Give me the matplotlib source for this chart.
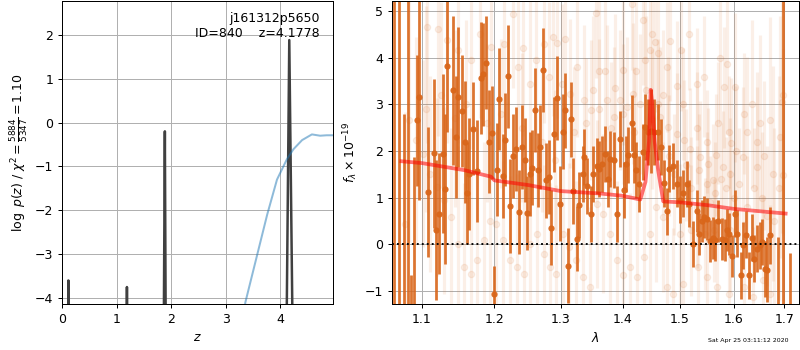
import matplotlib
matplotlib.use('Agg')
import matplotlib.pyplot as plt
from matplotlib.ticker import FixedLocator, NullLocator, NullFormatter

# ---- left panel: redshift probability ----
z_grid = [0.0, 0.105, 0.117, 0.13, 1.18, 1.19, 1.20, 1.86, 1.885, 1.905,
          4.091, 4.165, 4.255, 4.97]
logp = [-12, -6, -3.6, -6, -6, -3.75, -6, -6, -0.2, -6,
        -8, 1.88, -8, -12]

chi_z = [3.30, 3.36, 3.58, 3.76, 3.94, 4.12, 4.24, 4.40, 4.58, 4.73, 4.85, 4.97]
chi_v = [-4.6, -4.1, -3.0, -2.1, -1.3, -0.84, -0.61, -0.40, -0.27, -0.30, -0.29, -0.29]

# ---- right panel: spectrum ----
# binned points
lam = [1.063, 1.070, 1.076, 1.082, 1.086, 1.090,
       1.0938, 1.0965, 1.1084, 1.1164, 1.1187, 1.1232, 1.1277, 1.1313, 1.1340, 1.1422,
       1.1459, 1.1491, 1.1537, 1.1584, 1.1616, 1.1644, 1.1691, 1.1757, 1.1804, 1.1842,
       1.1880, 1.1928, 1.1961, 1.2000, 1.2034, 1.2073, 1.2121, 1.2155, 1.2204, 1.2229,
       1.2278, 1.2317, 1.2366, 1.2400, 1.2450, 1.2485, 1.2525, 1.2550, 1.2600, 1.2651,
       1.2676, 1.2727, 1.2768, 1.2819, 1.2840, 1.2891, 1.2943, 1.2984, 1.3026, 1.3063,
       1.3110, 1.3162, 1.3194, 1.3247, 1.3289, 1.3343, 1.3369, 1.3418, 1.3471, 1.3515,
       1.3569, 1.3612, 1.3650, 1.3705, 1.3749, 1.3788, 1.3854, 1.3910, 1.3955, 1.4022,
       1.4056, 1.4095, 1.4152, 1.4191, 1.4225, 1.4282, 1.4340, 1.4386, 1.4438, 1.4478,
       1.4536, 1.4612, 1.4659, 1.4718, 1.4759, 1.4806, 1.4866, 1.4938, 1.4998, 1.5058,
       1.5118, 1.5167, 1.5240, 1.5301, 1.5350, 1.5393, 1.5436, 1.5485, 1.5548, 1.5598,
       1.5641, 1.5704, 1.5767, 1.5831, 1.5875, 1.5913, 1.5958, 1.6022, 1.6067, 1.6131,
       1.6183, 1.6235, 1.6300, 1.6346, 1.6392, 1.6445, 1.6511, 1.6557, 1.6610, 1.6657,
       1.6710, 1.688, 1.698, 1.712]
flux = [6.0, 6.0, -2.0, 6.0, -2.0, -1.5,
        2.66, 3.16, 1.12, 1.95, 0.30, 0.66, 1.94, 1.19, 3.81, 3.30,
        2.30, 3.16, 2.85, 2.19, 1.10, 1.51, 2.48, 1.57, 3.57, 3.64,
        3.89, 2.20, 2.39, -1.06, 1.60, 3.11, 1.46, 2.24, 3.60, 0.82,
        1.89, 2.05, 0.69, 2.09, 1.81, 0.67, 1.51, 1.64, 2.87, 1.59,
        2.09, 3.73, 1.37, 1.44, 0.36, 2.36, 3.13, 0.87, 2.41, 2.87,
        -0.46, 2.68, 1.14, 0.12, 0.84, 1.51, 1.87, 1.24, 0.66, 1.51,
        1.67, 1.62, 1.73, 1.94, 1.39, 1.83, 1.81, 0.66, 2.26, 1.17,
        1.73, 1.91, 2.59, 1.91, 1.60, 1.29, 1.98, 2.51, 2.41, 2.43,
        2.41, 2.41, 2.09, 1.31, 0.71, 1.62, 1.68, 1.30, 0.96, 1.09,
        1.29, 0.87, 0.01, 0.71, 0.23, 0.51, 0.59, 0.55, 0.07, 0.14,
        0.09, 0.50, 0.12, 0.09, 0.31, 0.23, -0.24, 0.66, 0.23, -0.66,
        -0.02, 0.21, -0.66, 0.14, -0.31, -0.09, -0.02, 0.05, -0.52, -0.54,
        0.19, -1.5, 6.0, -1.5]
err = [7.5, 7.5, 4.8, 7.5, 1.35, 3.37,
       1.4, 2.2, 1.4, 1.6, 1.5, 1.3, 1.7, 1.6, 1.4, 1.6,
       1.3, 1.5, 1.2, 1.3, 1.1, 1.2, 1.0, 1.1, 1.2, 1.1,
       1.0, 1.1, 1.0, 0.6, 1.0, 1.1, 0.9, 1.0, 1.1, 1.0,
       0.9, 0.9, 0.9, 0.9, 0.9, 0.8, 0.9, 0.8, 0.9, 0.8,
       0.9, 0.9, 0.8, 0.8, 0.8, 0.8, 0.9, 0.8, 0.8, 0.8,
       0.8, 0.8, 0.7, 0.7, 0.7, 0.6, 0.6, 0.6, 0.6, 0.6,
       0.6, 0.6, 0.6, 0.6, 0.6, 0.6, 0.6, 0.6, 0.6, 0.6,
       0.6, 0.6, 0.6, 0.6, 0.6, 0.6, 0.6, 0.7, 0.7, 0.9,
       0.7, 0.6, 0.6, 0.5, 0.5, 0.5, 0.5, 0.5, 0.5, 0.5,
       0.5, 0.5, 0.5, 0.45, 0.45, 0.45, 0.45, 0.45, 0.45, 0.45,
       0.45, 0.45, 0.45, 0.45, 0.45, 0.45, 0.45, 0.5, 0.5, 0.5,
       0.5, 0.5, 0.5, 0.5, 0.5, 0.5, 0.5, 0.5, 0.6, 0.7,
       0.6, 1.65, 7.5, 1.32]

# individual exposures (faint)
faint_lam = [1.078, 1.083, 1.092, 1.101, 1.106, 1.111, 1.120, 1.121, 1.129, 1.134,
             1.139, 1.148, 1.149, 1.157, 1.166, 1.167, 1.175, 1.180, 1.185, 1.194,
             1.195, 1.203, 1.213, 1.214, 1.223, 1.227, 1.233, 1.234, 1.242, 1.243,
             1.253, 1.252, 1.263, 1.262, 1.273, 1.274, 1.283, 1.282, 1.287, 1.292,
             1.293, 1.303, 1.302, 1.307, 1.313, 1.314, 1.324, 1.325, 1.335, 1.336,
             1.346, 1.347, 1.351, 1.357, 1.356, 1.361, 1.368, 1.370, 1.374, 1.379,
             1.385, 1.387, 1.390, 1.396, 1.400, 1.401, 1.407, 1.413, 1.415, 1.418,
             1.423, 1.424, 1.430, 1.434, 1.436, 1.438, 1.446, 1.447, 1.450, 1.451,
             1.455, 1.458, 1.461, 1.464, 1.470, 1.469, 1.477, 1.476, 1.479, 1.482,
             1.488, 1.494, 1.495, 1.500, 1.501, 1.506, 1.507, 1.505, 1.518, 1.519,
             1.517, 1.531, 1.530, 1.532, 1.537, 1.543, 1.546, 1.549, 1.550, 1.552,
             1.561, 1.562, 1.567, 1.568, 1.574, 1.580, 1.581, 1.587, 1.592, 1.593,
             1.591, 1.595, 1.603, 1.618, 1.619, 1.626, 1.635, 1.638, 1.645, 1.651,
             1.658, 1.671, 1.672, 1.678, 1.691, 1.696, 1.698, 1.697, 1.520, 1.535,
             1.555, 1.565, 1.575, 1.585, 1.600, 1.610, 1.625, 1.640, 1.655, 1.665,
             1.530, 1.550, 1.570, 1.590, 1.605, 1.620, 1.645, 1.660, 1.680, 1.690,
             1.105, 1.125, 1.145, 1.160, 1.190, 1.210, 1.240, 1.270, 1.290, 1.320,
             1.340, 1.360, 1.380, 1.400, 1.420, 1.440, 1.460, 1.480, 1.490, 1.510]
faint_flux = [0.44, 2.66, 2.23, 1.94, 4.66, 1.51, 1.23, 4.62, 0.94, 4.37,
              0.59, 0.01, 4.16, -0.49, -0.63, 3.94, -0.34, 4.51, 0.09, 0.51,
              4.23, 0.44, 0.09, 4.30, -0.34, 4.94, -0.49, 3.80, 4.21, -0.63,
              0.01, 3.44, 0.23, 3.94, -0.20, 4.30, -0.49, 3.59, 4.44, -0.63,
              4.31, 0.23, 3.44, 4.39, -0.06, 3.23, -0.34, 3.80, -0.70, 3.09,
              -0.91, 2.87, 3.30, 0.87, 4.96, 3.71, 0.66, 3.71, 3.09, 0.23,
              2.73, 3.34, -0.34, 3.09, 3.73, -0.66, 2.94, -0.49, 5.14, 3.23,
              3.71, -0.70, 3.01, 4.81, -0.27, 3.94, 4.16, 0.23, 2.69, 4.51,
              4.34, 0.80, 4.09, 2.73, 3.19, 0.59, -0.91, 3.80, 2.51, 4.36,
              -1.06, 2.37, 3.39, 0.23, 4.16, -0.84, 2.23, 3.01, 2.05, 0.30,
              4.51, 0.80, 3.43, -0.49, 1.87, 3.59, 0.23, 1.30, -0.70, 1.73,
              1.37, 0.30, 1.91, -0.91, 3.99, 1.66, 3.36, 3.87, 1.51, 0.30,
              -1.06, 2.16, 3.36, 1.87, -0.91, 2.41, 3.01, -1.13, 1.66, 2.59,
              -0.77, 2.66, -1.06, 1.51, 2.30, 3.05, 3.19, 1.48, 1.20, 1.60,
              0.90, 1.10, 1.40, 1.20, 1.00, 1.30, 0.80, 1.20, 1.00, 0.60,
              2.50, 2.20, 2.60, 2.40, 2.00, 2.80, 2.20, 1.90, 0.50, 1.20,
              2.90, 3.20, 2.70, 3.00, 2.60, 2.80, 2.50, 2.20, 1.80, 2.40,
              2.60, 2.90, 2.50, 2.80, 2.40, 3.30, 3.00, 1.90, 1.50, 1.70]
faint_err = [2.4, 2.6, 2.2, 2.0, 2.5, 2.1, 1.9, 2.3, 2.0, 2.2,
             1.9, 2.1, 2.0, 1.8, 2.2, 1.9, 2.0, 1.8, 2.1, 1.9,
             1.8, 2.0, 1.7, 1.9, 1.8, 1.6, 2.0, 1.7, 1.9, 1.8,
             1.7, 1.9, 1.8, 1.6, 1.9, 1.7, 1.8, 1.6, 1.7, 1.9,
             1.6, 1.8, 1.7, 1.5, 1.8, 1.6, 1.7, 1.5, 1.8, 1.6,
             1.7, 1.5, 1.6, 1.8, 1.4, 1.6, 1.7, 1.5, 1.6, 1.8,
             1.5, 1.6, 1.7, 1.5, 1.6, 1.7, 1.5, 1.6, 1.4, 1.5,
             1.6, 1.7, 1.5, 1.4, 1.6, 1.5, 1.6, 1.7, 1.5, 1.4,
             1.5, 1.6, 1.4, 1.5, 1.4, 1.6, 1.5, 1.4, 1.5, 1.3,
             1.4, 1.3, 1.4, 1.5, 1.3, 1.4, 1.3, 1.2, 1.3, 1.4,
             1.2, 1.3, 1.2, 1.3, 1.2, 1.3, 1.2, 1.1, 1.3, 1.2,
             1.2, 1.1, 1.3, 1.2, 1.4, 1.2, 1.3, 1.5, 1.2, 1.3,
             1.3, 1.4, 1.6, 1.5, 1.4, 1.6, 1.8, 1.5, 1.7, 1.9,
             1.8, 2.2, 1.9, 2.3, 2.6, 2.8, 3.0, 2.7, 1.1, 1.2,
             1.0, 1.1, 1.2, 1.1, 1.0, 1.2, 1.1, 1.3, 1.4, 1.5,
             1.2, 1.1, 1.3, 1.2, 1.4, 1.3, 1.5, 1.6, 2.0, 2.4,
             2.2, 2.0, 1.9, 1.8, 1.7, 1.6, 1.6, 1.5, 1.5, 1.4,
             1.4, 1.5, 1.4, 1.5, 1.4, 1.6, 1.4, 1.3, 1.3, 1.2]

# best-fit model
model_lam = [1.073, 1.100, 1.157, 1.195, 1.200, 1.250, 1.300, 1.362, 1.400, 1.430,
             1.439, 1.445, 1.448, 1.450, 1.455, 1.461, 1.470, 1.500, 1.550, 1.600,
             1.650, 1.703]
model_flux = [1.78, 1.74, 1.59, 1.45, 1.37, 1.27, 1.14, 1.09, 1.04, 0.96,
              1.34, 2.20, 3.31, 3.10, 2.20, 1.59, 0.92, 0.90, 0.84, 0.76,
              0.71, 0.66]

xticks = [1.1, 1.2, 1.3, 1.4, 1.5, 1.6, 1.7]

dpi = 90
fig = plt.figure(figsize=(800 / dpi, 350 / dpi), dpi=dpi)
ax1 = fig.add_axes([0.0775, 0.131, 0.339, 0.866])
ax2 = fig.add_axes([0.49, 0.131, 0.509, 0.866])

ax1.plot(z_grid, logp, color='0.25', lw=2)
ax1.plot(chi_z, chi_v, color='#1f77b4', alpha=0.5, lw=1.6)
ax1.set_xlim(0, 4.97)
ax1.set_ylim(-4.14, 2.77)
ax1.grid(True)
ax1.set_xlabel('$z$')
ax1.set_ylabel(r'$\log\ p(z)$ / $\chi^2=\frac{5884}{5347}=1.10$')
ax1.text(0.95, 0.965, 'j161312p5650\nID=840    z=4.1778', transform=ax1.transAxes,
         ha='right', va='top', fontsize=10)

orange = '#d9661a'
ax2.errorbar(faint_lam, faint_flux, yerr=faint_err, fmt='o', color=orange,
             alpha=0.1, ms=5, elinewidth=2.5, zorder=1)
ax2.errorbar(lam, flux, yerr=err, fmt='o', color=orange, alpha=0.9,
             ms=4, elinewidth=2.2, zorder=2)
ax2.plot(model_lam, model_flux, color='red', alpha=0.55, lw=3, zorder=3)
ax2.axhline(0, color='k', ls=':', lw=1.5, zorder=4)

ax2.set_xscale('log')
ax2.set_xlim(1.061, 1.731)
ax2.set_ylim(-1.28, 5.21)
ax2.xaxis.set_major_locator(FixedLocator(xticks))
ax2.xaxis.set_minor_locator(NullLocator())
ax2.xaxis.set_minor_formatter(NullFormatter())
ax2.set_xticklabels([f'{t:.1f}' for t in xticks])
ax2.grid(True)
ax2.set_axisbelow(True)
ax2.set_xlabel(r'$\lambda$')
ax2.set_ylabel(r'$f_\lambda\times10^{-19}$')

fig.text(0.985, 0.02, 'Sat Apr 25 03:11:12 2020', ha='right', va='bottom', fontsize=5)

fig.savefig('out.png', dpi=dpi)
